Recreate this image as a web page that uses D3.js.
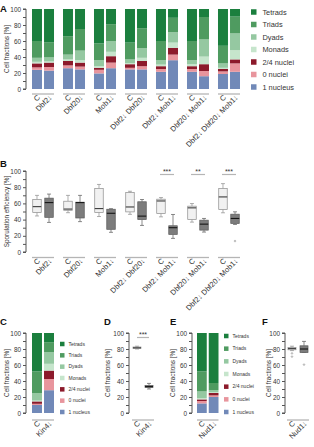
<!DOCTYPE html>
<html>
<head>
<meta charset="utf-8">
<script src="https://cdn.jsdelivr.net/npm/d3@7.9.0/dist/d3.min.js"></script>
<style>
  body { margin: 0; background: #fff; }
  svg { display: block; font-family: "Liberation Sans", Arial, sans-serif; }
</style>
</head>
<body>
<svg width="314" height="447"></svg>
<script>
// ---- data ----
const categories = ['Tetrads', 'Triads', 'Dyads', 'Monads', '2/4 nuclei', '0 nuclei', '1 nucleus'];
const catColors = ['#1b7f3e', '#4f9b60', '#95c8a1', '#c6e5cc', '#8c1a2b', '#e8959d', '#7189b8'];

const strainsA = ['C', 'Dbf2↓', 'C', 'Dbf20↓', 'C', 'Mob1↓', 'C', 'Dbf2↓ Dbf20↓',
  'C', 'Dbf2↓ Mob1↓', 'C', 'Dbf20↓ Mob1↓', 'C', 'Dbf2↓ Dbf20↓ Mob1↓'];
// segment sizes, bottom to top
const oneNucleusA = [24, 23, 26, 24.5, 19.5, 26, 24.5, 24.5, 21.5, 36, 21.5, 16, 18.75, 21.5];
const zeroNucleiA = [3, 4.5, 3.5, 3.5, 4.5, 7, 2, 4, 3.5, 7, 3.5, 6.5, 3.25, 10.5];
const twoFourA = [5, 5.5, 5.5, 5, 2.5, 8, 4.5, 6.5, 3.5, 8.5, 3.5, 8.5, 3, 5];
const monadsA = [2, 1.5, 2, 3, 2, 5.5, 1.5, 4, 2, 6.5, 2.5, 9.5, 1.5, 11.5];
const dyadsA = [5, 5, 6, 12, 7.5, 13.5, 4.5, 12, 5.5, 13, 5, 21.5, 5.5, 21];
const triadsA = [21, 19, 23, 27, 21, 21, 21, 25, 24, 18, 24, 28, 22, 21];
const tetradsA = [40, 41.5, 34, 25, 43, 19, 42, 24, 40, 11, 40, 10, 46, 9.5];

// sporulation efficiency boxes (B)
const lowB = [44.5, 36.5, 48.5, 37.5, 43.8, 24.3, 46.5, 32.8, 43.4, 16.8, 36.9, 24.6, 48.4, 34];
const q1B = [48.7, 42.8, 51.5, 42, 48.7, 28, 49.5, 40, 47.5, 21.7, 40.2, 27, 52.5, 35.2];
const medB = [56, 61, 53, 61, 53.6, 47.8, 55.6, 44.3, 63, 30, 54.5, 34.4, 68, 41.4];
const q3B = [65, 66.5, 62.7, 61.5, 78.5, 52.8, 73.3, 62, 65.2, 32.4, 56.6, 39.3, 78.3, 46.7];
const highB = [69.9, 71.5, 69.9, 69.9, 83.4, 53.5, 75, 64.8, 67.2, 46.3, 59.8, 41.4, 84.4, 49.6];
const outliersB = [[], [], [], [], [], [], [], [], [], [], [], [], [], [13.5]];
const sigGroupsB = [4, 5, 6];
const sigLabelsB = ['***', '**', '***'];

// C: Kin4
const strainsC = ['C', 'Kin4↓'];
const oneNucleusC = [10, 28.5];
const zeroNucleiC = [1.5, 14];
const twoFourC = [3, 10.5];
const monadsC = [1, 8.5];
const dyadsC = [9.5, 14.5];
const triadsC = [27, 12.5];
const tetradsC = [48, 11.5];

// D: Kin4 boxes
const lowD = [80, 30];
const q1D = [80.7, 31.8];
const medD = [81.5, 33];
const q3D = [82.5, 34.5];
const highD = [83.5, 37];
const outliersD = [[], []];

// E: Nud1
const strainsE = ['C', 'Nud1↓'];
const oneNucleusE = [12, 20];
const zeroNucleiE = [3, 2];
const twoFourE = [2, 3];
const monadsE = [1.5, 1];
const dyadsE = [8.5, 2.5];
const triadsE = [25, 9];
const tetradsE = [48, 62.5];

// F: Nud1 boxes
const lowF = [78, 76];
const q1F = [79, 75.5];
const medF = [80.5, 80];
const q3F = [82, 84];
const highF = [83.5, 89.5];
const outliersF = [[70.5, 74.5], [60.5]];

// ---- drawing ----
const svg = d3.select('svg');
const FONT = 6.4;
const LABEL_FONT = 7.5;
const axisCol = '#555';
const groupLineCol = '#b5b5b5';

function makeRows(strains, series) {
  // series in category order (Tetrads ... 1 nucleus)
  return strains.map((s, i) => {
    const row = { strain: s, idx: i };
    categories.forEach((c, k) => { row[c] = series[k][i]; });
    return row;
  });
}

function drawYAxis(y, x0, title, titleX) {
  const axis = d3.axisLeft(y).tickValues(d3.range(0, 101, 10)).tickSize(3).tickPadding(2)
    .tickFormat(d => d % 20 === 0 ? d : '');
  const g = svg.append('g').attr('transform', `translate(${x0},0)`).call(axis);
  g.select('.domain').attr('stroke', axisCol).attr('d', `M-3,${y(0)}H0V${y(100)}H-3`);
  g.selectAll('.tick line').attr('stroke', axisCol);
  g.selectAll('.tick text').attr('font-size', FONT).attr('fill', '#333').attr('font-family', null);
  const [y0, y1] = y.range();
  svg.append('text')
    .attr('transform', `translate(${titleX},${(y0 + y1) / 2}) rotate(-90)`)
    .attr('text-anchor', 'middle').attr('font-size', FONT).attr('fill', '#333')
    .text(title);
}

function drawXLabels(strains, xc, lineY, nGroups, groupX, groupW) {
  d3.range(nGroups).forEach(gi => {
    svg.append('line')
      .attr('x1', groupX(gi)).attr('x2', groupX(gi) + groupW)
      .attr('y1', lineY).attr('y2', lineY)
      .attr('stroke', groupLineCol).attr('stroke-width', 1.3);
  });
  strains.forEach((s, i) => {
    svg.append('text')
      .attr('transform', `translate(${xc(i) + 3.5},${lineY + 4}) rotate(-45)`)
      .attr('text-anchor', 'end').attr('font-size', LABEL_FONT).attr('fill', '#333')
      .text(s);
  });
}

function panelLetter(t, x, y) {
  svg.append('text').attr('x', x).attr('y', y).attr('font-size', 9.5)
    .attr('font-weight', 'bold').attr('fill', '#111').text(t);
}

function stackedPanel(rows, y, barX, barW) {
  const stack = d3.stack().keys(categories.slice().reverse());
  const layers = stack(rows);
  svg.append('g').selectAll('g').data(layers).join('g')
    .attr('fill', d => catColors[categories.indexOf(d.key)])
    .selectAll('rect').data(d => d).join('rect')
    .attr('x', d => barX(d.data.idx))
    .attr('width', barW)
    .attr('y', d => y(d[1]))
    .attr('height', d => y(d[0]) - y(d[1]));
}

function legend(x, yTop, yBot, size, fontSize) {
  const ly = d3.scalePoint().domain(categories).range([yTop, yBot]);
  const g = svg.append('g');
  categories.forEach((c, k) => {
    g.append('rect').attr('x', x).attr('y', ly(c) - size / 2)
      .attr('width', size).attr('height', size).attr('fill', catColors[k]);
    g.append('text').attr('x', x + size + fontSize * 0.8).attr('y', ly(c))
      .attr('dy', '0.35em').attr('font-size', fontSize).attr('fill', '#333').text(c);
  });
}

function boxes(low, q1, med, q3, high, outl, y, xc, w, isDark) {
  const g = svg.append('g');
  low.forEach((_, i) => {
    const dark = isDark(i);
    const cx = xc(i);
    const stroke = dark ? '#5a5a5a' : '#8c8c8c';
    g.append('line').attr('x1', cx).attr('x2', cx).attr('y1', y(high[i])).attr('y2', y(q3[i]))
      .attr('stroke', stroke).attr('stroke-width', 0.7);
    g.append('line').attr('x1', cx).attr('x2', cx).attr('y1', y(q1[i])).attr('y2', y(low[i]))
      .attr('stroke', stroke).attr('stroke-width', 0.7);
    g.append('line').attr('x1', cx - 2).attr('x2', cx + 2).attr('y1', y(high[i])).attr('y2', y(high[i]))
      .attr('stroke', stroke).attr('stroke-width', 0.7);
    g.append('line').attr('x1', cx - 2).attr('x2', cx + 2).attr('y1', y(low[i])).attr('y2', y(low[i]))
      .attr('stroke', stroke).attr('stroke-width', 0.7);
    g.append('rect').attr('x', cx - w / 2).attr('width', w)
      .attr('y', y(q3[i])).attr('height', Math.max(0.8, y(q1[i]) - y(q3[i])))
      .attr('fill', dark ? '#7c7c7c' : '#f1f1f1').attr('stroke', stroke).attr('stroke-width', 0.7);
    g.append('line').attr('x1', cx - w / 2).attr('x2', cx + w / 2)
      .attr('y1', y(med[i])).attr('y2', y(med[i]))
      .attr('stroke', dark ? '#151515' : '#3c3c3c').attr('stroke-width', 1.1);
    outl[i].forEach(v => {
      g.append('circle').attr('cx', cx).attr('cy', y(v)).attr('r', 0.8)
        .attr('fill', 'none').attr('stroke', '#777').attr('stroke-width', 0.5);
    });
  });
}

function sigMark(x1, x2, yLine, label) {
  svg.append('line').attr('x1', x1).attr('x2', x2).attr('y1', yLine).attr('y2', yLine)
    .attr('stroke', groupLineCol).attr('stroke-width', 1.2);
  svg.append('text').attr('x', (x1 + x2) / 2).attr('y', yLine - 0.5)
    .attr('text-anchor', 'middle').attr('font-size', 7).attr('fill', '#333').text(label);
}

// ---- Panel A ----
const groupsA = d3.range(strainsA.length / 2);
const outerA = d3.scaleBand().domain(groupsA).range([32, 240]).paddingInner(0.29);
const inner = d3.scaleBand().domain([0, 1]).range([0, outerA.bandwidth()]).paddingInner(0.17);
const barXA = i => outerA(Math.floor(i / 2)) + inner(i % 2);
const barCA = i => barXA(i) + inner.bandwidth() / 2;
const yA = d3.scaleLinear().domain([0, 100]).range([89, 9]);

panelLetter('A', 0, 12);
drawYAxis(yA, 26, 'Cell fractions [%]', 9);
stackedPanel(makeRows(strainsA, [tetradsA, triadsA, dyadsA, monadsA, twoFourA, zeroNucleiA, oneNucleusA]),
  yA, barXA, inner.bandwidth());
drawXLabels(strainsA, barCA, 94, groupsA.length, g => outerA(g), outerA.bandwidth());
legend(251, 12, 87, 5.5, 7.4);

// ---- Panel B ----
const yB = d3.scaleLinear().domain([0, 100]).range([252, 171]);
panelLetter('B', 0, 167);
drawYAxis(yB, 26, 'Sporulation efficiency [%]', 9);
boxes(lowB, q1B, medB, q3B, highB, outliersB, yB, barCA, 8.5, i => i % 2 === 1);
sigGroupsB.forEach((gi, k) => {
  sigMark(barCA(gi * 2) - 1, barCA(gi * 2 + 1) + 1, 174.5, sigLabelsB[k]);
});
drawXLabels(strainsA, barCA, 257.5, groupsA.length, g => outerA(g), outerA.bandwidth());

// ---- Panel C ----
const yC = d3.scaleLinear().domain([0, 100]).range([413, 333]);
const outerC = d3.scaleBand().domain([0]).range([32, 54]);
const innerC = d3.scaleBand().domain([0, 1]).range([0, outerC.bandwidth()]).paddingInner(0.17);
const barXC = i => outerC(0) + innerC(i);
const barCC = i => barXC(i) + innerC.bandwidth() / 2;
panelLetter('C', 0, 325);
drawYAxis(yC, 26, 'Cell fractions [%]', 9);
stackedPanel(makeRows(strainsC, [tetradsC, triadsC, dyadsC, monadsC, twoFourC, zeroNucleiC, oneNucleusC]),
  yC, barXC, innerC.bandwidth());
drawXLabels(strainsC, barCC, 420, 1, () => outerC(0), outerC.bandwidth());
legend(60, 344, 412, 4.5, 5);

// ---- Panel D ----
const outerD = d3.scaleBand().domain([0]).range([132, 154]);
const innerD = d3.scaleBand().domain([0, 1]).range([0, outerD.bandwidth()]).paddingInner(0.17);
const boxCD = i => outerD(0) + innerD(i) + innerD.bandwidth() / 2;
panelLetter('D', 104, 325);
drawYAxis(yC, 129, 'Cell fractions [%]', 110);
boxes(lowD, q1D, medD, q3D, highD, outliersD, yC, boxCD, 8, i => i === 1);
sigMark(boxCD(0), boxCD(1), 337.5, '***');
drawXLabels(['C', 'Kin4↓'], boxCD, 420, 1, () => outerD(0), outerD.bandwidth());

// ---- Panel E ----
const outerE = d3.scaleBand().domain([0]).range([197, 218.5]);
const innerE = d3.scaleBand().domain([0, 1]).range([0, outerE.bandwidth()]).paddingInner(0.17);
const barXE = i => outerE(0) + innerE(i);
const barCE = i => barXE(i) + innerE.bandwidth() / 2;
panelLetter('E', 170, 325);
drawYAxis(yC, 192, 'Cell fractions [%]', 175);
stackedPanel(makeRows(strainsE, [tetradsE, triadsE, dyadsE, monadsE, twoFourE, zeroNucleiE, oneNucleusE]),
  yC, barXE, innerE.bandwidth());
drawXLabels(strainsE, barCE, 420, 1, () => outerE(0), outerE.bandwidth());
legend(224, 336, 412, 4.5, 5);

// ---- Panel F ----
const outerF = d3.scaleBand().domain([0]).range([287, 309]);
const innerF = d3.scaleBand().domain([0, 1]).range([0, outerF.bandwidth()]).paddingInner(0.17);
const boxCF = i => outerF(0) + innerF(i) + innerF.bandwidth() / 2;
panelLetter('F', 262, 325);
drawYAxis(yC, 285, 'Cell fractions [%]', 271);
boxes(lowF, q1F, medF, q3F, highF, outliersF, yC, boxCF, 8, i => i === 1);
drawXLabels(['C', 'Nud1↓'], boxCF, 420, 1, () => outerF(0), outerF.bandwidth());
</script>
</body>
</html>
